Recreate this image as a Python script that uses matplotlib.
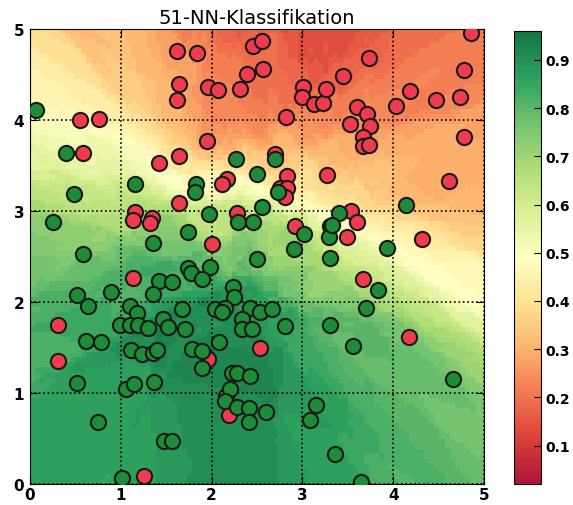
import numpy as np
import matplotlib
matplotlib.use("Agg")
import matplotlib.pyplot as plt

# class 0 (red) and class 1 (green) training points
red_x = [0.55, 0.76, 0.59, 1.42, 1.64, 1.62, 1.64, 1.62, 1.84, 2.46, 2.55, 2.39, 2.57, 1.96,
         2.07, 2.31, 3.01, 2.99, 3.13, 3.23, 3.26, 2.82, 1.95, 2.70, 2.83, 3.27, 2.17, 2.11,
         4.85, 3.73, 4.78, 3.45, 4.18, 4.47, 4.73, 4.03, 3.60, 3.71, 3.52, 3.74, 3.67, 3.67,
         3.73, 4.78, 4.61, 1.64, 1.16, 1.14, 1.35, 1.32, 1.14, 0.31, 2.75, 2.83, 2.81, 2.28,
         2.01, 2.92, 3.53, 3.60, 3.49, 4.32, 3.67, 4.17, 0.31, 1.26, 1.96, 2.53, 2.16, 2.19]
red_y = [4.00, 4.01, 3.64, 3.53, 3.60, 4.76, 4.40, 4.22, 4.74, 4.81, 4.87, 4.50, 4.56, 4.36,
         4.33, 4.34, 4.36, 4.25, 4.18, 4.19, 4.34, 4.03, 3.77, 3.63, 3.38, 3.40, 3.35, 3.30,
         4.95, 4.68, 4.55, 4.48, 4.32, 4.22, 4.25, 4.15, 4.14, 4.06, 3.95, 3.93, 3.81, 3.71,
         3.72, 3.81, 3.33, 3.09, 2.99, 2.90, 2.92, 2.87, 2.26, 1.75, 3.25, 3.25, 3.15, 2.98,
         2.64, 2.84, 3.00, 2.88, 2.72, 2.69, 2.25, 1.62, 1.35, 0.09, 1.38, 1.50, 0.97, 0.76]

green_x = [0.07, 0.40, 1.16, 2.27, 2.70, 2.50, 1.83, 0.49, 0.26, 1.36, 0.59, 1.42, 1.57, 1.36,
           0.52, 0.89, 0.64, 1.10, 1.18, 0.99, 1.10, 1.19, 1.30, 1.47, 1.52, 1.82, 2.73, 1.97,
           2.29, 2.56, 2.46, 1.74, 3.02, 2.91, 3.30, 3.29, 3.30, 2.50, 1.98, 1.74, 1.77, 1.90,
           2.24, 2.25, 1.68, 2.04, 2.15, 2.11, 2.42, 2.53, 2.66, 2.33, 2.81, 1.71, 2.34, 2.44,
           3.30, 4.14, 3.40, 3.32, 3.93, 3.83, 3.70, 0.62, 0.78, 1.11, 1.24, 1.36, 1.40, 0.52,
           1.06, 1.15, 1.37, 0.75, 1.48, 1.56, 1.01, 2.08, 1.78, 1.90, 1.89, 2.23, 2.28, 2.42,
           2.20, 2.15, 2.28, 2.41, 2.41, 2.60, 3.15, 3.08, 3.36, 3.56, 4.66, 3.65]
green_y = [4.11, 3.64, 3.30, 3.57, 3.57, 3.41, 3.30, 3.19, 2.88, 2.65, 2.53, 2.23, 2.22, 2.09,
           2.08, 2.11, 1.96, 1.96, 1.88, 1.75, 1.75, 1.75, 1.72, 1.81, 1.73, 3.21, 3.21, 2.97,
           2.88, 3.04, 2.88, 2.77, 2.75, 2.58, 2.83, 2.72, 2.48, 2.47, 2.39, 2.37, 2.32, 2.25,
           2.17, 2.06, 1.92, 1.92, 1.94, 1.89, 1.94, 1.89, 1.92, 1.81, 1.74, 1.70, 1.70, 1.70,
           1.75, 3.07, 2.98, 2.85, 2.59, 2.13, 1.93, 1.57, 1.56, 1.47, 1.43, 1.44, 1.47, 1.11,
           1.05, 1.10, 1.12, 0.68, 0.48, 0.48, 0.07, 1.56, 1.48, 1.46, 1.28, 1.22, 1.22, 1.19,
           1.05, 0.91, 0.85, 0.84, 0.68, 0.79, 0.87, 0.71, 0.33, 1.52, 1.16, 0.03]

cb_ticks = [0.1, 0.2, 0.3, 0.4, 0.5, 0.6, 0.7, 0.8, 0.9]
k = 51
n_grid = 90

X = np.column_stack([np.r_[red_x, green_x], np.r_[red_y, green_y]])
labels = np.r_[np.zeros(len(red_x)), np.ones(len(green_x))]

# k-NN probability of class "green" on a grid
g = (np.arange(n_grid) + 0.5) * 5.0 / n_grid
gx, gy = np.meshgrid(g, g)
G = np.column_stack([gx.ravel(), gy.ravel()])
d = ((G[:, None, :] - X[None, :, :]) ** 2).sum(-1)
idx = np.argsort(d, axis=1)[:, :k]
prob = labels[idx].mean(axis=1).reshape(n_grid, n_grid)

fig = plt.figure(figsize=(5.73, 5.06), dpi=100)
ax = fig.add_axes([0.052, 0.041, 0.793, 0.900])
cax = fig.add_axes([0.897, 0.041, 0.047, 0.896])

im = ax.imshow(prob, extent=(0, 5, 0, 5), origin='lower', cmap='RdYlGn',
               interpolation='nearest', aspect='auto', alpha=0.92,
               vmin=0.02, vmax=0.96)
ax.scatter(red_x, red_y, s=120, c='#ee3b4e', edgecolors='#1a1a1a', linewidths=1.5, zorder=3)
ax.scatter(green_x, green_y, s=120, c='#1d8b37', edgecolors='#1a1a1a', linewidths=1.5, zorder=3)

ax.set_xlim(0, 5)
ax.set_ylim(0, 5)
ax.set_xticks(range(6))
ax.set_yticks(range(6))
ax.grid(True, color='black', linestyle=':', linewidth=1.2)
ax.tick_params(direction='in', top=True, right=True, length=6, labelsize=11)
ax.tick_params(axis='x', pad=2)
ax.tick_params(axis='y', pad=4)
for lab in ax.get_xticklabels() + ax.get_yticklabels():
    lab.set_fontweight('bold')
ax.set_title('51-NN-Klassifikation', fontsize=14, pad=4)

cb = fig.colorbar(im, cax=cax)
cb.set_ticks(cb_ticks)
cb.ax.tick_params(labelsize=10, direction='in', length=5)
for lab in cb.ax.get_yticklabels():
    lab.set_fontweight('bold')

fig.savefig('out.png', dpi=100)
